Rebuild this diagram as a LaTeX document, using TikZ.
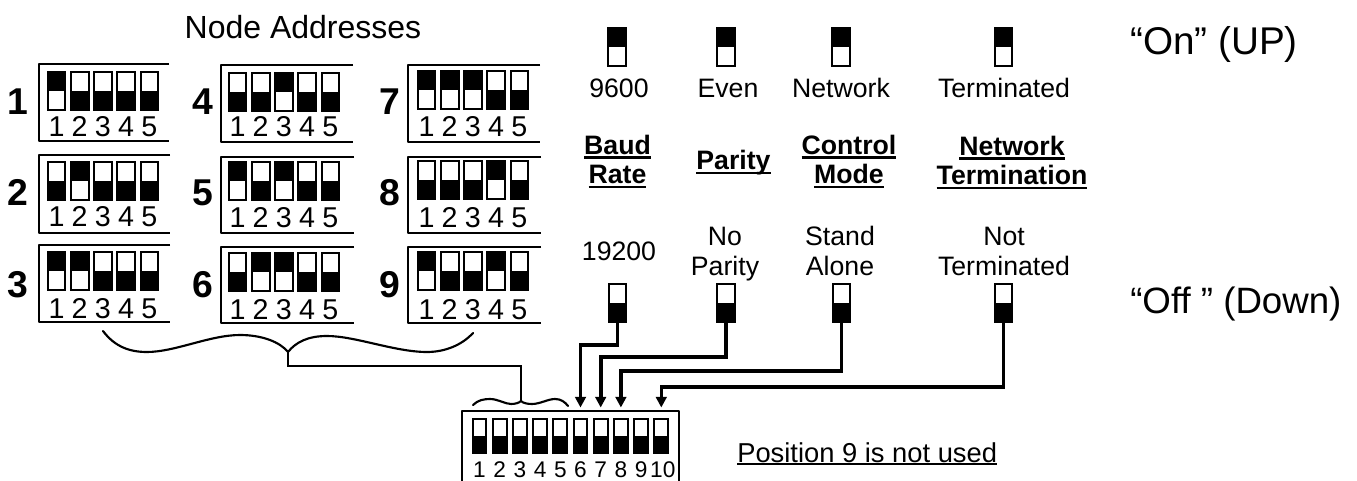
\documentclass[tikz,border=0pt]{standalone}
\usepackage{fontspec}
\setmainfont{Liberation Sans}
\usetikzlibrary{arrows.meta}
\newcommand{\fs}[1]{\fontsize{#1}{#1}\selectfont}
\newcommand{\ulbold}[1]{\setbox0\hbox{#1}\leavevmode\rlap{\raisebox{-3.2pt}{\rule{\wd0}{1.9pt}}}\box0}
\newcommand{\ulthin}[1]{\setbox0\hbox{#1}\leavevmode\rlap{\raisebox{-2.2pt}{\rule{\wd0}{1.3pt}}}\box0}
\tikzset{
  x=0.75pt,y=-0.75pt,
  sw/.style={draw=black,fill=white,line width=1.5pt,inner sep=0pt,outer sep=0pt,minimum width=13.2pt,minimum height=29pt},
  swup/.style={sw,path picture={\fill[black] (path picture bounding box.north west) rectangle (path picture bounding box.east);}},
  swdn/.style={sw,path picture={\fill[black] (path picture bounding box.west) rectangle (path picture bounding box.south east);}},
  swmain/.style={swdn,minimum width=10.4pt,minimum height=25pt},
  dig/.style={inner sep=0pt,anchor=base,font=\fs{21.5}},
  digb/.style={inner sep=0pt,anchor=base,font=\fs{17}},
  num/.style={inner sep=0pt,anchor=base,font=\fs{28}\bfseries},
  lab/.style={inner sep=0pt,align=center,anchor=base,font={\fontsize{20}{21.75}\selectfont}},
  blab/.style={inner sep=0pt,align=center,anchor=base,font={\fontsize{20}{22}\selectfont\bfseries}},
  frame/.style={line width=1.5pt,line join=round},
  wire/.style={line width=2.7pt,line join=miter},
  wirea/.style={wire,-{Triangle[length=8pt,width=8pt]}},
  brace/.style={line width=1.6pt,line cap=round,line join=round},
}
\begin{document}
\begin{tikzpicture}
\useasboundingbox (0,0) rectangle (1357,481);
\fill[white] (0,0) rectangle (1357,481);

\foreach \id/\lx/\ly/\fl/\ft/\fb/\fr/\sx/\sy/\dy/\ups in {
  1/18/115/39/64/141/169/56.5/91/137/{1},
  2/18/206/39/155/233/170/56.5/181/227/{2},
  3/18/297/39/245/322/170/56.5/271/318/{1,2},
  4/203/115/221/65/142/353/237.5/92/137/{3},
  5/203/206/221/157/233/354/237.5/181/228/{1,3},
  6/203/297/221/247/323/354/237.5/272/319/{2,3},
  7/390/115/408/65/142/540/426.5/90/137/{1,2,3},
  8/390/206/408/157/233/541/426.5/180/228/{4},
  9/390/297/408/247/323/541/426.5/271/319/{1,4}}{
  \node[num] (lab\id) at (\lx,\ly) {\id};
  \draw[frame] (\fr,\ft) -- (\fl,\ft) -- (\fl,\fb) -- (\fr,\fb);
  \foreach \k in {1,...,5}{
    \pgfmathsetmacro{\cx}{\sx+(\k-1)*23.2}
    \gdef\isup{0}
    \foreach \u in \ups {\ifnum\u=\k\gdef\isup{1}\fi}
    \ifnum\isup=1\def\st{swup}\else\def\st{swdn}\fi
    \node[\st] (a\id-\k) at (\cx,\sy) {};
    \node[dig] (d\id-\k) at (\cx,\dy) {\k};
  }
}

\node[inner sep=0pt,font=\fs{24}] (title) at (303,27) {Node Addresses};

% on switches
\node[swup] (on1) at (617,47) {};
\node[swup] (on2) at (726,47) {};
\node[swup] (on3) at (841,47) {};
\node[swup] (on4) at (1003.5,47) {};
% off switches
\node[swdn] (off1) at (617.5,303) {};
\node[swdn] (off2) at (726,303) {};
\node[swdn] (off3) at (841.5,303) {};
\node[swdn] (off4) at (1003.5,303) {};

\node[lab] (t1) at (619,98) {9600};
\node[lab] (t2) at (728,98) {Even};
\node[lab] (t3) at (841,98) {Network};
\node[lab] (t4) at (1004,98) {Terminated};

\node[blab] (h1) at (617.5,184) {\ulbold{Baud}\\\ulbold{Rate}};
\node[blab] (h2) at (733.5,170) {\ulbold{Parity}};
\node[blab] (h3) at (849,184) {\ulbold{Control}\\\ulbold{Mode}};
\node[blab] (h4) at (1012,185) {\ulbold{Network}\\\ulbold{Termination}};

\node[lab] (b1) at (619,261) {19200};
\node[lab] (b2) at (725,275) {No\\Parity};
\node[lab] (b3) at (840,275) {Stand\\Alone};
\node[lab] (b4) at (1004,275) {Not\\Terminated};

\node[inner sep=0pt,font=\fs{29},anchor=base west] (on) at (1130,55) {“On” (UP)};
\node[inner sep=0pt,font=\fs{27.5},anchor=base west] (off) at (1130,313) {“Off ” (Down)};
\node[inner sep=0pt,font=\fs{20.5},anchor=base west] (note) at (737,462) {\ulthin{Position 9 is not used}};

% main DIP
\coordinate (mfl) at (462,481);
\coordinate (mfr) at (679,481);
\draw[frame] (mfl) -- (462,411) -- (679,411) -- (mfr);
\foreach \k in {1,...,10}{
  \pgfmathsetmacro{\cx}{479.5+(\k-1)*20.2}
  \node[swmain] (m\k) at (\cx,436) {};
  \ifnum\k=10
    \node[digb] (md\k) at (\cx+1.5,477) {\k};
  \else
    \node[digb] (md\k) at (\cx,477) {\k};
  \fi
}
\foreach \k in {6,7,8,10}{ \coordinate (tip\k) at (m\k |- 0,407.5); }

% wires
\draw[wirea] (off1.south) -- (off1.south |- 0,345) -| (tip6);
\draw[wirea] (off2.south) -- (off2.south |- 0,357) -| (tip7);
\draw[wirea] (off3.south) -- (off3.south |- 0,371) -| (tip8);
\draw[wirea] (off4.south) -- (off4.south |- 0,387) -| (tip10);

% braces
\coordinate (bigtip) at (288,352);
\coordinate (smalltip) at (521,401);
\draw[brace] (103,331) .. controls (115,347) and (130,352) .. (147,352)
  .. controls (175,352) and (210,335) .. (240,335)
  .. controls (262,335) and (280,342) .. (bigtip)
  .. controls (296,342) and (308,336) .. (327,336)
  .. controls (355,336) and (395,352) .. (427,352)
  .. controls (445,352) and (462,345) .. (473,333);
\draw[brace] (473,405) .. controls (478,400) and (484,399) .. (490,399)
  .. controls (498,399) and (505,404) .. (511,404)
  .. controls (515,404) and (519,403) .. (smalltip)
  .. controls (523,403) and (527,404) .. (532,404)
  .. controls (540,404) and (548,399) .. (555,399)
  .. controls (561,399) and (565,402) .. (568,406);
\draw[line width=1.9pt] (bigtip) |- (521,366) -- (smalltip);
\end{tikzpicture}
\end{document}
